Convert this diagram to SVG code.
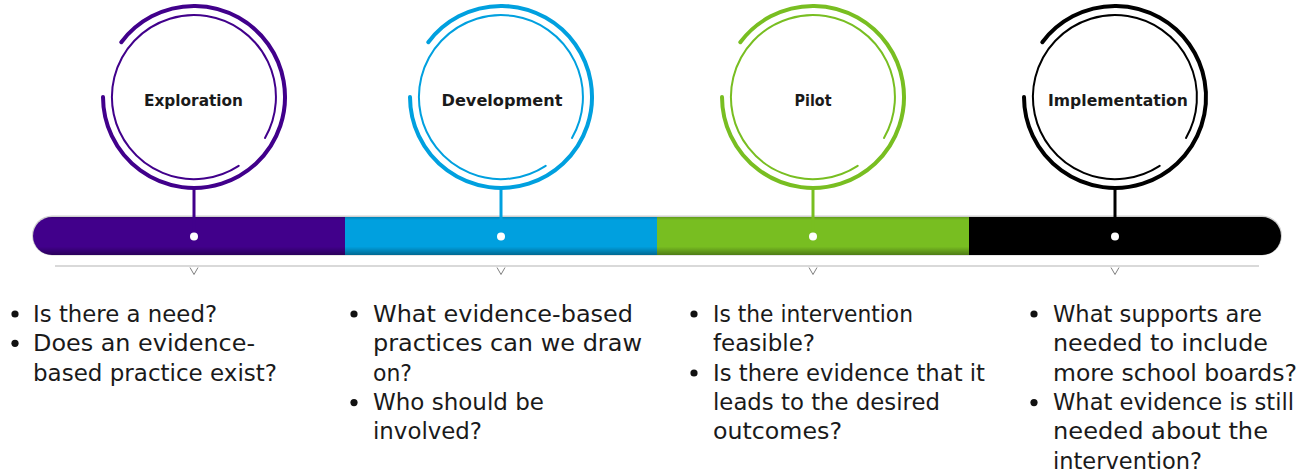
<svg xmlns="http://www.w3.org/2000/svg" width="1308" height="471" viewBox="0 0 1308 471">
<style>
.outer{fill:none;stroke-width:4;stroke-linecap:round}
.inner{fill:none;stroke-width:2;stroke-linecap:round}
.stem{stroke-width:3}
.title{font-family:"DejaVu Sans",sans-serif;font-weight:bold;font-size:16px;fill:#1a1a1a;text-anchor:middle}
.body{font-family:"DejaVu Sans",sans-serif;font-size:22.5px;fill:#1a1a1a}
.bul{fill:#111}
.chev{fill:none;stroke:#7f7f7f;stroke-width:1}
.purple{stroke:#41008B}
.blue{stroke:#00A0DF}
.green{stroke:#78BE21}
.black{stroke:#000}
</style>
<defs>
<clipPath id="barclip"><rect x="33" y="217" width="1248" height="38" rx="19" ry="19"/></clipPath>
<linearGradient id="shade" x1="0" y1="0" x2="0" y2="1">
<stop offset="0" stop-color="#000" stop-opacity="0.18"/>
<stop offset="0.08" stop-color="#000" stop-opacity="0"/>
<stop offset="0.78" stop-color="#000" stop-opacity="0"/>
<stop offset="1" stop-color="#000" stop-opacity="0.35"/>
</linearGradient>
</defs>

<!-- timeline bar -->
<g id="timeline">
<rect x="32" y="215.5" width="1250" height="40" rx="20" fill="#d0d0d0"/>
<g clip-path="url(#barclip)">
<rect x="33" y="217" width="312" height="38" fill="#41008B"/>
<rect x="345" y="217" width="312" height="38" fill="#00A0DF"/>
<rect x="657" y="217" width="312" height="38" fill="#78BE21"/>
<rect x="969" y="217" width="312" height="38" fill="#000"/>
<rect x="33" y="217" width="1248" height="38" fill="url(#shade)"/>
</g>
<line x1="55" y1="266" x2="1259" y2="266" stroke="#d9d9d9" stroke-width="2"/>
</g>

<!-- connectors: stems -->
<g id="connectors">
<line class="stem purple" x1="194" y1="188" x2="194" y2="236"/>
<line class="stem blue" x1="501" y1="188" x2="501" y2="236"/>
<line class="stem green" x1="813" y1="188" x2="813" y2="236"/>
<line class="stem black" x1="1115" y1="188" x2="1115" y2="236"/>
</g>

<g id="node-exploration">
<path class="outer purple" d="M 121.3 42.2 A 91 91 0 1 1 103 97"/>
<path class="inner purple" d="M 238.7 165.8 A 82 82 0 1 1 265 138"/>
<text class="title" x="193.5" y="106" textLength="99" lengthAdjust="spacingAndGlyphs">Exploration</text>
<circle cx="194" cy="236.5" r="4" fill="#fff"/>
<polyline class="chev" points="190,267.5 194,274.5 198,267.5"/>
</g>

<g id="node-development">
<path class="outer blue" d="M 428.3 42.2 A 91 91 0 1 1 410 97"/>
<path class="inner blue" d="M 545.7 165.8 A 82 82 0 1 1 572 138"/>
<text class="title" x="502" y="106" textLength="121" lengthAdjust="spacingAndGlyphs">Development</text>
<circle cx="501" cy="236.5" r="4" fill="#fff"/>
<polyline class="chev" points="497,267.5 501,274.5 505,267.5"/>
</g>

<g id="node-pilot">
<path class="outer green" d="M 740.3 42.2 A 91 91 0 1 1 722 97"/>
<path class="inner green" d="M 857.7 165.8 A 82 82 0 1 1 884 138"/>
<text class="title" x="813" y="106" textLength="37" lengthAdjust="spacingAndGlyphs">Pilot</text>
<circle cx="813" cy="236.5" r="4" fill="#fff"/>
<polyline class="chev" points="809,267.5 813,274.5 817,267.5"/>
</g>

<g id="node-implementation">
<path class="outer black" d="M 1042.3 42.2 A 91 91 0 1 1 1024 97"/>
<path class="inner black" d="M 1159.7 165.8 A 82 82 0 1 1 1186 138"/>
<text class="title" x="1118" y="106" textLength="140" lengthAdjust="spacingAndGlyphs">Implementation</text>
<circle cx="1115" cy="236.5" r="4" fill="#fff"/>
<polyline class="chev" points="1111,267.5 1115,274.5 1119,267.5"/>
</g>

<g id="text-exploration">
<circle class="bul" cx="15" cy="314" r="3.6"/>
<circle class="bul" cx="15" cy="343.3" r="3.6"/>
<text class="body" x="33" y="322" textLength="184" lengthAdjust="spacingAndGlyphs">Is there a need?</text>
<text class="body" x="33" y="351.3" textLength="222" lengthAdjust="spacingAndGlyphs">Does an evidence-</text>
<text class="body" x="33" y="380.6" textLength="244" lengthAdjust="spacingAndGlyphs">based practice exist?</text>
</g>

<g id="text-development">
<circle class="bul" cx="354" cy="314" r="3.6"/>
<circle class="bul" cx="354" cy="402.6" r="3.6"/>
<text class="body" x="373" y="322" textLength="260" lengthAdjust="spacingAndGlyphs">What evidence-based</text>
<text class="body" x="373" y="351.3" textLength="269" lengthAdjust="spacingAndGlyphs">practices can we draw</text>
<text class="body" x="373" y="380.6" textLength="39" lengthAdjust="spacingAndGlyphs">on?</text>
<text class="body" x="373" y="410" textLength="171" lengthAdjust="spacingAndGlyphs">Who should be</text>
<text class="body" x="373" y="439.3" textLength="109" lengthAdjust="spacingAndGlyphs">involved?</text>
</g>

<g id="text-pilot">
<circle class="bul" cx="694" cy="314" r="3.6"/>
<circle class="bul" cx="694" cy="373" r="3.6"/>
<text class="body" x="713" y="322" textLength="200" lengthAdjust="spacingAndGlyphs">Is the intervention</text>
<text class="body" x="713" y="351.3" textLength="102" lengthAdjust="spacingAndGlyphs">feasible?</text>
<text class="body" x="713" y="380.6" textLength="272" lengthAdjust="spacingAndGlyphs">Is there evidence that it</text>
<text class="body" x="713" y="410" textLength="227" lengthAdjust="spacingAndGlyphs">leads to the desired</text>
<text class="body" x="713" y="439.3" textLength="129" lengthAdjust="spacingAndGlyphs">outcomes?</text>
</g>

<g id="text-implementation">
<circle class="bul" cx="1034" cy="314" r="3.6"/>
<circle class="bul" cx="1034" cy="402.6" r="3.6"/>
<text class="body" x="1053" y="322" textLength="209" lengthAdjust="spacingAndGlyphs">What supports are</text>
<text class="body" x="1053" y="351.3" textLength="215" lengthAdjust="spacingAndGlyphs">needed to include</text>
<text class="body" x="1053" y="380.6" textLength="244" lengthAdjust="spacingAndGlyphs">more school boards?</text>
<text class="body" x="1053" y="410" textLength="241" lengthAdjust="spacingAndGlyphs">What evidence is still</text>
<text class="body" x="1053" y="439.3" textLength="215" lengthAdjust="spacingAndGlyphs">needed about the</text>
<text class="body" x="1053" y="468.6" textLength="149" lengthAdjust="spacingAndGlyphs">intervention?</text>
</g>
</svg>
